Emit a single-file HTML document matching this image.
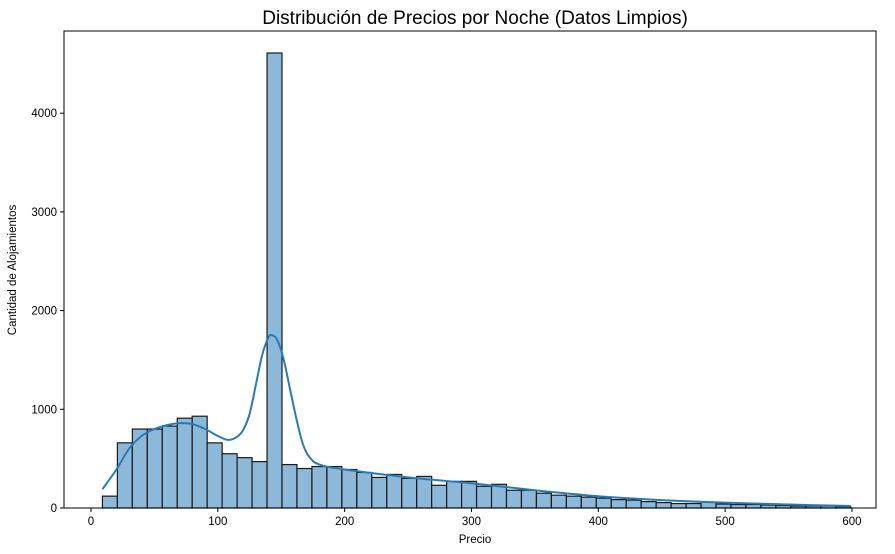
<!DOCTYPE html>
<html><head><meta charset="utf-8"><style>
body{margin:0;background:#fff;}
svg text{font-family:"Liberation Sans","DejaVu Sans",sans-serif;fill:#000;}
</style></head><body>
<svg id="chart" width="895" height="549"></svg>
<script>
const binStart = 9;
const binWidth = 11.8;
const counts = [120,660,800,800,830,910,930,660,550,510,470,4610,440,400,420,420,390,360,310,340,300,320,230,270,270,220,240,180,180,150,130,120,110,100,85,80,65,55,45,45,60,40,35,35,30,25,20,20,20,15];
const kdeX = [9,20,30,40,50,60,70,80,90,100,108,115,120,125,130,135,140,143,147,152,157,162,167,172,180,200,250,300,350,400,450,500,550,599];
const kdeY = [190,390,600,730,800,840,860,850,800,730,690,720,790,950,1250,1550,1730,1750,1700,1500,1200,900,650,520,440,390,310,250,180,120,80,55,35,20];
const xTicks = [0,100,200,300,400,500,600];
const yTicks = [0,1000,2000,3000,4000];

const NS="http://www.w3.org/2000/svg";
const svg=document.getElementById('chart');
const L=64,R=876,T=31,B=508;
const sx=v=>91+v*1.2683;
const sy=v=>B-v*0.0987;
function mk(tag,attrs,parent){const e=document.createElementNS(NS,tag);for(const k in attrs)e.setAttribute(k,attrs[k]);(parent||svg).appendChild(e);return e;}

counts.forEach((c,i)=>{
  const x0=sx(binStart+i*binWidth),x1=sx(binStart+(i+1)*binWidth);
  const r=mk('rect',{x:x0,y:sy(c),width:x1-x0,height:B-sy(c),fill:'#8cb8d9',stroke:'#1a1a1a','stroke-width':1.2});
  
  
});
const P=kdeX.map((x,i)=>[sx(x),sy(kdeY[i])]);
let d='M'+P[0][0].toFixed(1)+','+P[0][1].toFixed(1);
for(let i=0;i<P.length-1;i++){
  const p0=P[Math.max(0,i-1)],p1=P[i],p2=P[i+1],p3=P[Math.min(P.length-1,i+2)];
  const c1=[p1[0]+(p2[0]-p0[0])/6,p1[1]+(p2[1]-p0[1])/6];
  const c2=[p2[0]-(p3[0]-p1[0])/6,p2[1]-(p3[1]-p1[1])/6];
  d+='C'+c1[0].toFixed(1)+','+c1[1].toFixed(1)+' '+c2[0].toFixed(1)+','+c2[1].toFixed(1)+' '+p2[0].toFixed(1)+','+p2[1].toFixed(1);
}
const kde=mk('path',{d:d,fill:'none',stroke:'#2a7ab8','stroke-width':2,'stroke-linejoin':'round'});



const frame=mk('rect',{x:L,y:T,width:R-L,height:B-T,fill:'none',stroke:'#000','stroke-width':1});



xTicks.forEach(v=>{
  mk('line',{x1:sx(v),x2:sx(v),y1:B,y2:B+4,stroke:'#000'});
  const t=mk('text',{x:sx(v),y:B+17,'text-anchor':'middle','font-size':11.5});
  t.textContent=v;
  
  
});
yTicks.forEach(v=>{
  mk('line',{x1:L-4,x2:L,y1:sy(v),y2:sy(v),stroke:'#000'});
  const t=mk('text',{x:L-7,y:sy(v)+4,'text-anchor':'end','font-size':11.5});
  t.textContent=v;
  
  
});
</script>
<svg width="895" height="549" style="position:absolute;left:0;top:0">
<text x="475" y="24" text-anchor="middle" font-size="19">Distribución de Precios por Noche (Datos Limpios)</text>
<text x="475" y="543" text-anchor="middle" font-size="11.5">Precio</text>
<text x="16" y="270" text-anchor="middle" font-size="11.5" transform="rotate(-90 16 270)">Cantidad de Alojamientos</text>
</svg>
</body></html>
